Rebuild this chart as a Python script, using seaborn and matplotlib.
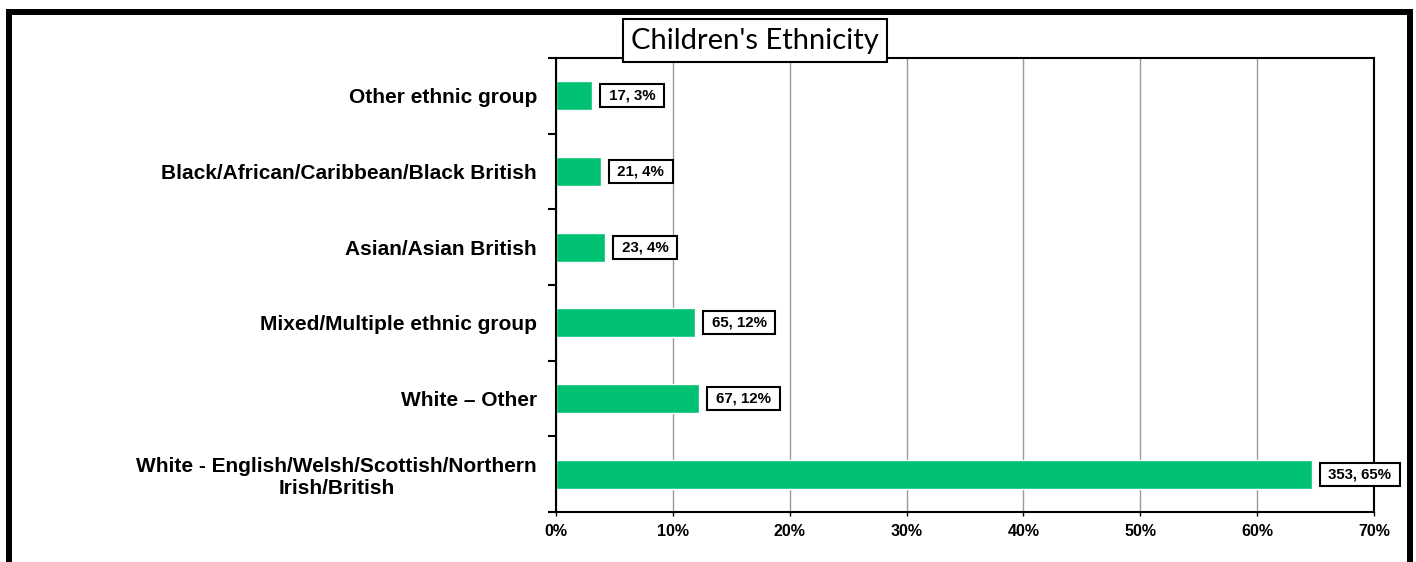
import matplotlib
matplotlib.use("Agg")
import matplotlib.pyplot as plt
import matplotlib.patches as mpatches
from matplotlib.ticker import FixedLocator
import numpy as np
import pandas as pd
import seaborn as sns

# Data
categories = [
    "Other ethnic group",
    "Black/African/Caribbean/Black British",
    "Asian/Asian British",
    "Mixed/Multiple ethnic group",
    "White \u2013 Other",
    "White - English/Welsh/Scottish/Northern\nIrish/British",
]
counts = [17, 21, 23, 65, 67, 353]
x_ticks = [0, 10, 20, 30, 40, 50, 60, 70]
title = "Children's Ethnicity"

total = sum(counts)
shares = [100 * c / total for c in counts]
df = pd.DataFrame({"group": categories, "share": shares, "count": counts})

sns.set_style("white")
plt.rcParams["font.family"] = ["Liberation Sans", "DejaVu Sans"]
plt.rcParams["font.weight"] = "bold"
plt.rcParams["text.color"] = "black"
plt.rcParams["xtick.color"] = "black"
plt.rcParams["ytick.color"] = "black"
plt.rcParams["xtick.labelcolor"] = "black"
plt.rcParams["ytick.labelcolor"] = "black"

W, H = 1416, 562
PT = 72 / 100  # points per pixel at dpi 100

fig = plt.figure(figsize=(W / 100, H / 100), dpi=100)
ax = fig.add_axes([556 / W, 1 - 512 / H, (1374 - 556) / W, (512 - 58) / H])

sns.barplot(data=df, x="share", y="group", orient="h", color="#00C172",
            saturation=1, width=0.38, errorbar=None, ax=ax, zorder=2)

ax.set_xlim(0, 70)
ax.set_ylim(5.5, -0.5)
ax.set_xlabel("")
ax.set_ylabel("")
ax.set_xticks(x_ticks)
ax.set_xticklabels([f"{t}%" for t in x_ticks], fontsize=11.5, fontweight="bold",
                   color="black")
for lbl in ax.get_yticklabels():
    lbl.set_fontsize(15)
    lbl.set_fontweight("bold")
    lbl.set_color("black")
    lbl.set_multialignment("center")

ax.xaxis.grid(True, color="#999999", lw=1)
ax.set_axisbelow(True)

# category separators as outward minor ticks
ax.yaxis.set_minor_locator(FixedLocator(np.arange(-0.5, 6, 1)))
ax.tick_params(axis="y", which="major", left=True, length=0, pad=19 * PT)
ax.tick_params(axis="y", which="minor", left=True, length=8 * PT, width=1.5,
               direction="out", color="black")
ax.tick_params(axis="x", which="major", bottom=True, length=4 * PT, width=1,
               direction="out", color="black", pad=8 * PT)

for sp in ax.spines.values():
    sp.set_visible(True)
    sp.set_color("black")
    sp.set_linewidth(1.5)

# value labels in boxes
pad_frac = 0.3
lab_fs = 10.8
for i, (s, c) in enumerate(zip(shares, counts)):
    ax.annotate(f" {c}, {s:.0f}% ", xy=(s, i), xytext=(8 * PT + pad_frac * lab_fs, 0),
                textcoords="offset points", ha="left", va="center",
                fontsize=lab_fs, fontweight="bold", color="black", zorder=5,
                bbox=dict(boxstyle=f"square,pad={pad_frac}", fc="white",
                          ec="black", lw=1.5))

# title box
fig.text(755 / W, 1 - 40.5 / H, title, ha="center", va="center",
         fontsize=21, fontweight="normal", family=["Lato", "DejaVu Sans"],
         color="black", zorder=10,
         bbox=dict(boxstyle="square,pad=0.28", fc="white", ec="black", lw=1.5))

# outer frame
fig.patches.append(mpatches.Rectangle((9 / W, -0.1), (1410 - 9) / W, 1 - 11.5 / H + 0.1,
                                      transform=fig.transFigure, fill=False,
                                      ec="black", lw=6 * PT, zorder=20))

fig.savefig("out.png", dpi=100)
